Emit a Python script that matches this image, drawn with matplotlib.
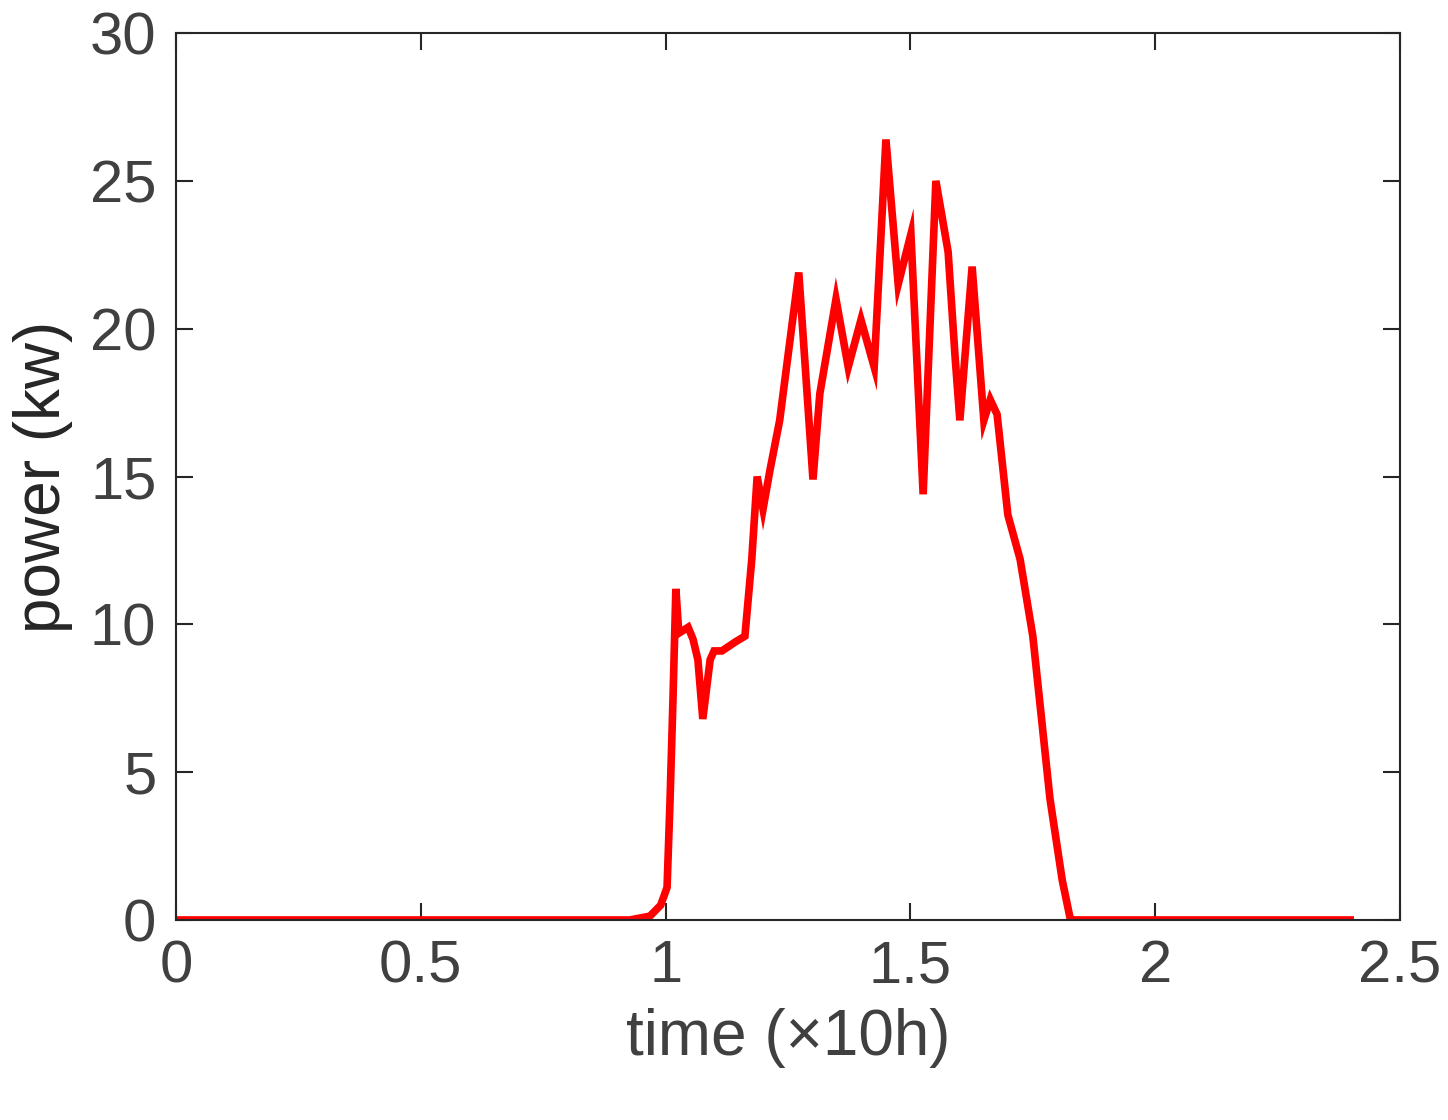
import matplotlib
matplotlib.use("Agg")
import matplotlib.pyplot as plt

time = [0, 0.927, 0.968, 0.99, 1.003, 1.009, 1.015, 1.021, 1.027, 1.046, 1.056, 1.066, 1.076,
        1.091, 1.099, 1.115, 1.142, 1.162, 1.176, 1.187, 1.199, 1.213, 1.233, 1.254, 1.272,
        1.301, 1.315, 1.348, 1.373, 1.399, 1.426, 1.450, 1.475, 1.501, 1.526, 1.552, 1.577,
        1.591, 1.601, 1.626, 1.650, 1.663, 1.677, 1.699, 1.724, 1.750, 1.785, 1.810, 1.826,
        1.83, 2.398]
power = [0, 0, 0.13, 0.5, 1.1, 4.0, 7.4, 11.2, 9.7, 9.9, 9.5, 8.8, 6.8,
         8.8, 9.1, 9.1, 9.4, 9.6, 12.2, 15.0, 13.9, 15.2, 16.9, 19.6, 21.9,
         14.9, 17.8, 21.0, 18.7, 20.3, 18.7, 26.4, 21.5, 23.2, 14.4, 25.0, 22.6,
         19.1, 16.9, 22.1, 16.9, 17.6, 17.1, 13.7, 12.2, 9.6, 4.1, 1.35, 0.07,
         0, 0]

plt.rcParams['font.family'] = ['Liberation Sans', 'DejaVu Sans']
fig = plt.figure(figsize=(14.48, 11.2), dpi=100)
ax = fig.add_axes([0.1215, 0.1786, 0.8454, 0.7919])
ax.plot(time, power, color='#ff0000', lw=5.5, solid_joinstyle='miter')
ax.set_xlim(0, 2.5)
ax.set_ylim(0, 30)
ax.set_xticks([0, 0.5, 1, 1.5, 2, 2.5])
ax.set_xticklabels(['0', '0.5', '1', '1.5', '2', '2.5'])
ax.set_yticks([0, 5, 10, 15, 20, 25, 30])
ax.tick_params(direction='in', length=12, width=1.5, top=True, right=True,
               labelsize=43, labelcolor='#404040', color='#262626', pad=14)
for s in ax.spines.values():
    s.set_linewidth(1.5)
    s.set_color('#262626')
ax.set_xlabel('time (×10h)', fontsize=46, color='#404040', labelpad=10)
ax.set_ylabel('power (kw)', fontsize=46, color='#262626', labelpad=12)
fig.savefig('out.png', dpi=100)
